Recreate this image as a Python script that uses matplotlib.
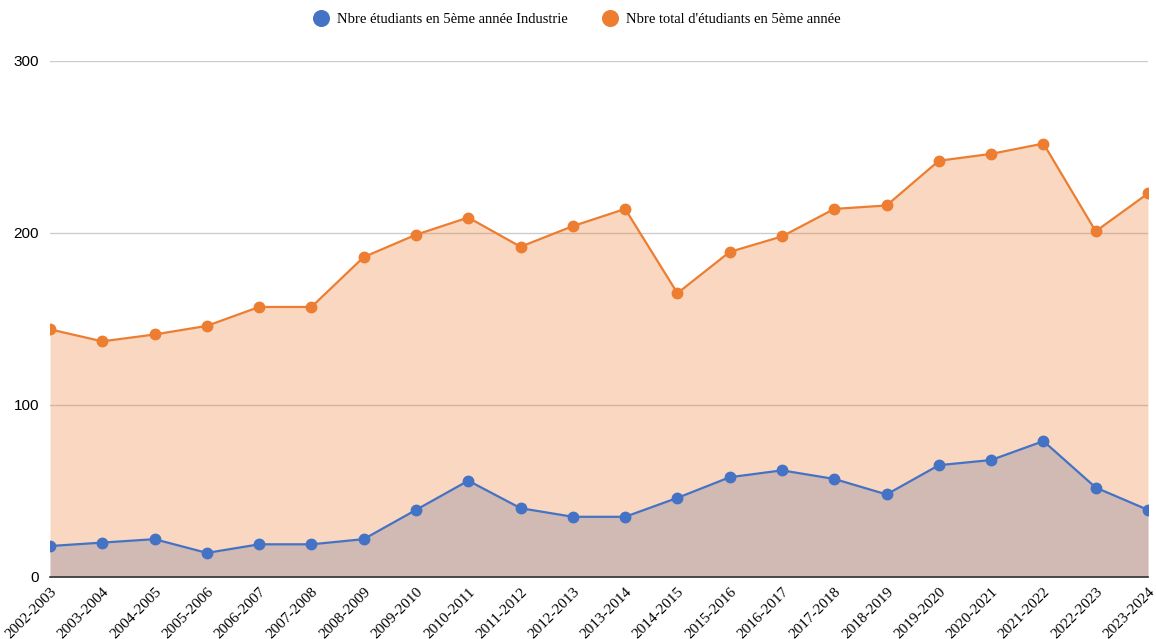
import matplotlib.pyplot as plt

years = ['2002-2003', '2003-2004', '2004-2005', '2005-2006', '2006-2007',
         '2007-2008', '2008-2009', '2009-2010', '2010-2011', '2011-2012',
         '2012-2013', '2013-2014', '2014-2015', '2015-2016', '2016-2017',
         '2017-2018', '2018-2019', '2019-2020', '2020-2021', '2021-2022',
         '2022-2023', '2023-2024']
industrie = [18, 20, 22, 14, 19, 19, 22, 39, 56, 40, 35, 35, 46, 58, 62,
             57, 48, 65, 68, 79, 52, 39]
total = [144, 137, 141, 146, 157, 157, 186, 199, 209, 192, 204, 214, 165,
         189, 198, 214, 216, 242, 246, 252, 201, 223]

blue = '#4472c4'
orange = '#ed7d31'

fig = plt.figure(figsize=(11.56, 6.39), dpi=100)
ax = fig.add_axes([50 / 1156, 1 - 577 / 639, 1098 / 1156, 516 / 639])

x = list(range(len(years)))
# blue area first, orange area laid over it (gives the brownish overlap)
ax.fill_between(x, 0, industrie, color=blue, alpha=0.3, linewidth=0)
ax.fill_between(x, 0, total, color=orange, alpha=0.3, linewidth=0)
ax.plot(x, total, color=orange, lw=1.6, marker='o', ms=7.5, zorder=3,
        label="Nbre total d'étudiants en 5ème année")
ax.plot(x, industrie, color=blue, lw=1.6, marker='o', ms=7.5, zorder=3,
        label='Nbre étudiants en 5ème année Industrie')

ax.set_xlim(0, len(years) - 1)
ax.set_ylim(0, 300)
ax.set_yticks([0, 100, 200, 300])
ax.grid(axis='y', color='#cccccc', lw=1)
ax.set_axisbelow(True)
for s in ['top', 'right', 'left']:
    ax.spines[s].set_visible(False)
ax.spines['bottom'].set_color('#333333')
ax.spines['bottom'].set_linewidth(1.2)
ax.tick_params(axis='both', length=0)
ax.tick_params(axis='y', pad=8, labelsize=11)
ax.set_xticks(x)
ax.set_xticklabels(years, rotation=45, ha='right', rotation_mode='anchor',
                   family='Liberation Serif', fontsize=11)
ax.tick_params(axis='x', pad=6)
for t in ax.get_yticklabels():
    t.set_family('Liberation Sans')

h, l = ax.get_legend_handles_labels()
fig.legend(h[::-1], l[::-1], loc='upper center', bbox_to_anchor=(0.5, 1.0),
           ncol=2, frameon=False, prop={'family': 'Liberation Serif', 'size': 10.5},
           handlelength=0.8, handletextpad=0.7, columnspacing=2.5,
           markerscale=1.5)
for line in fig.legends[0].get_lines():
    line.set_linestyle('none')

fig.savefig('out.png', dpi=100)
